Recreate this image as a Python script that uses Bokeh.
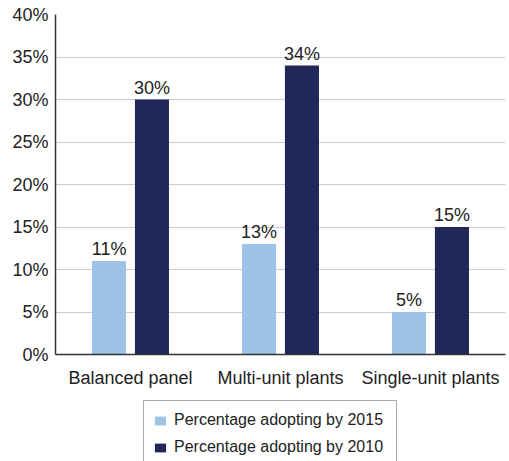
from bokeh.plotting import figure
from bokeh.layouts import column
from bokeh.models import ColumnDataSource, FactorRange, Range1d, Legend, LegendItem, PrintfTickFormatter, FixedTicker
from bokeh.transform import dodge
from bokeh.embed import file_html
from bokeh.resources import INLINE

categories = ["Balanced panel", "Multi-unit plants", "Single-unit plants"]
pct_2015 = [11, 13, 5]
pct_2010 = [30, 34, 15]
labels_2015 = ["11%", "13%", "5%"]
labels_2010 = ["30%", "34%", "15%"]
series_names = ["Percentage adopting by 2015", "Percentage adopting by 2010"]
y_ticks = [0, 5, 10, 15, 20, 25, 30, 35, 40]

LIGHT = "#9dc3e6"
DARK = "#1f2858"
FONT = "Liberation Sans"
TXT = "#222222"

src = ColumnDataSource(data=dict(cat=categories, a=pct_2015, b=pct_2010,
                                 la=labels_2015, lb=labels_2010))

p = figure(x_range=FactorRange(*categories, range_padding=0), y_range=Range1d(0, 40),
           width=509, height=396, output_backend="svg", toolbar_location=None,
           min_border_left=55, min_border_right=4, min_border_top=14, min_border_bottom=42)
p.outline_line_color = None

p.vbar(x=dodge("cat", -0.143, range=p.x_range), top="a", width=0.227, source=src,
       fill_color=LIGHT, line_color=None)
p.vbar(x=dodge("cat", 0.143, range=p.x_range), top="b", width=0.227, source=src,
       fill_color=DARK, line_color=None)

for col, top, off in (("la", "a", -0.143), ("lb", "b", 0.143)):
    p.text(x=dodge("cat", off, range=p.x_range), y=top, text=col, source=src,
           text_align="center", text_baseline="bottom", y_offset=-2,
           text_font_size="18px", text_color=TXT, text_font={"value": FONT})

p.yaxis.ticker = FixedTicker(ticks=y_ticks)
p.yaxis.formatter = PrintfTickFormatter(format="%d%%")
for ax in (p.xaxis, p.yaxis):
    ax.major_tick_line_color = None
    ax.minor_tick_line_color = None
    ax.major_tick_out = 0
    ax.major_tick_in = 0
    ax.minor_tick_out = 0
    ax.minor_tick_in = 0
    ax.axis_line_color = "#333333"
    ax.axis_line_width = 1.5
    ax.major_label_text_font = FONT
    ax.major_label_text_color = TXT
p.yaxis.major_label_text_font_size = "18px"
p.xaxis.major_label_text_font_size = "18px"
p.yaxis.major_label_standoff = 7
p.xaxis.major_label_standoff = 13
p.xgrid.grid_line_color = None
p.ygrid.grid_line_color = "#cccccc"
p.ygrid.ticker = FixedTicker(ticks=y_ticks)

# legend panel below the chart (its frame is aligned with the chart's frame)
p2 = figure(width=509, height=65, output_backend="svg", toolbar_location=None,
            x_range=Range1d(0, 1), y_range=Range1d(0, 1),
            x_axis_location=None, y_axis_location=None,
            min_border_left=55, min_border_right=4, min_border_top=0, min_border_bottom=0)
p2.outline_line_color = None
p2.xgrid.grid_line_color = None
p2.ygrid.grid_line_color = None
lr1 = p2.vbar(x=[-10], bottom=[-10], top=[-9], width=0.1, fill_color=LIGHT, line_color=None)
lr2 = p2.vbar(x=[-10], bottom=[-10], top=[-9], width=0.1, fill_color=DARK, line_color=None)

legend = Legend(items=[LegendItem(label=series_names[0], renderers=[lr1]),
                       LegendItem(label=series_names[1], renderers=[lr2])],
                location=(88, -6), orientation="vertical",
                label_text_font=FONT, label_text_font_size="16px", label_text_color=TXT,
                glyph_width=14, glyph_height=11, label_height=20, label_width=213,
                label_standoff=7, spacing=7, padding=9, margin=0,
                border_line_color="#555555", border_line_width=1.3,
                background_fill_alpha=1)
p2.add_layout(legend, "center")

open("out.html", "w").write(file_html(column(p, p2, spacing=0), INLINE))
